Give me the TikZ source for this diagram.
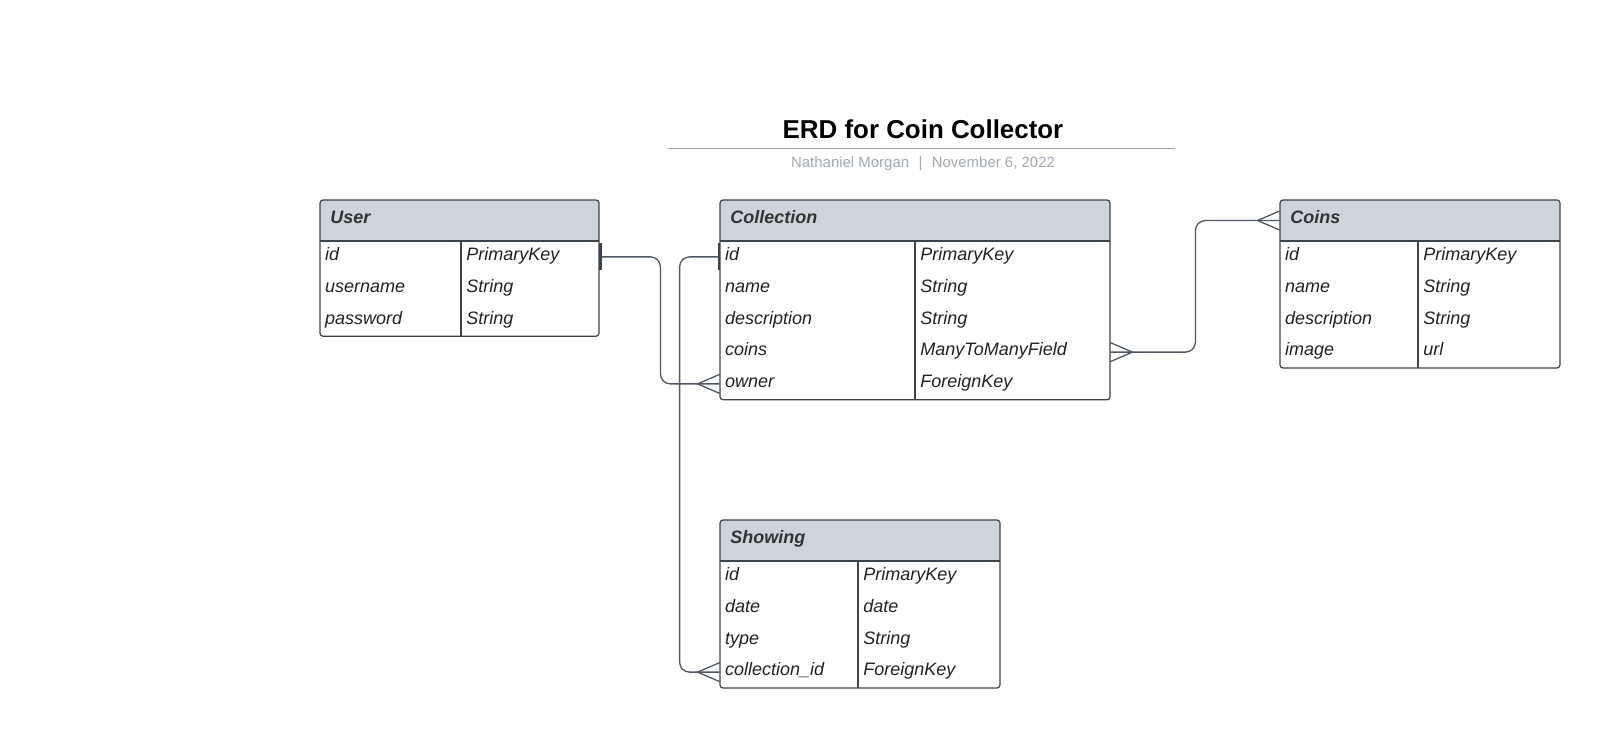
\documentclass[tikz,border=0pt]{standalone}
\usepackage{fontspec}
\setmainfont{Liberation Sans}
\usetikzlibrary{fit}

\definecolor{hdrgray}{HTML}{CED4DB}
\definecolor{edgegray}{HTML}{3D434C}
\definecolor{linkgray}{HTML}{505866}
\definecolor{subgray}{HTML}{A3A8B5}
\definecolor{rulegray}{HTML}{9EA3B0}
\definecolor{inkdark}{HTML}{222222}
\definecolor{hdrink}{HTML}{333333}

\tikzset{
  entbox/.style={draw=edgegray, line width=0.6pt, rounded corners=1.5pt, inner sep=0pt},
  areabox/.style={inner sep=0pt},
  gridline/.style={draw=edgegray, line width=0.6pt},
  hdrfill/.style={fill=hdrgray},
  hdrtext/.style={anchor=base west, inner sep=0pt, text=hdrink,
    font=\fontsize{9}{11}\selectfont\bfseries\itshape},
  fieldtext/.style={anchor=mid west, inner sep=0pt, text=inkdark,
    font=\fontsize{9}{11}\selectfont\itshape},
  conn/.style={draw=linkgray, line width=0.65pt},
  onebar/.style={draw=edgegray, line width=1.3pt},
}

% Entity table: #1 name, #2 left, #3 top, #4 width, #5 divider offset,
% #6 number of rows, #7 title, #8 field/type list
\newcommand{\erentity}[8]{%
  \pgfmathsetmacro{\eBot}{41+#6*31.75}%
  \fill[hdrfill, rounded corners=1.5pt] (#2,#3+41) -- (#2,#3) -- (#2+#4,#3) -- (#2+#4,#3+41);
  \node[areabox, fit={(#2,#3)(#2+#4,#3+41)}] (#1-h) {};
  \node[entbox, fit={(#2,#3)(#2+#4,#3+\eBot)}] (#1) {};
  \draw[gridline] (#2,#3+41) -- (#2+#4,#3+41);
  \draw[gridline] (#2+#5,#3+41) -- (#2+#5,#3+\eBot);
  \node[hdrtext] (#1-title) at (#2+10,#3+23.5) {#7};
  \foreach \fld/\typ [count=\i] in {#8} {
    \node[areabox, fit={(#2,#3+41+\i*31.75-31.75)(#2+#4,#3+41+\i*31.75)}] (#1-r\i) {};
    \node[fieldtext] (#1-f\i) at ([xshift=2.5pt, yshift=0.8pt]#1-r\i.west) {\fld};
    \node[fieldtext] (#1-t\i) at ([yshift=0.8pt]#1-r\i.west -| {#2+#5+5,0}) {\typ};
  }%
}

% Crow's foot ("many") on a west or east side anchor
\newcommand{\crowwest}[1]{%
  \draw[conn] ([yshift=4.75pt]#1) -- ([xshift=-11pt]#1) -- ([yshift=-4.75pt]#1);}
\newcommand{\croweast}[1]{%
  \draw[conn] ([yshift=4.75pt]#1) -- ([xshift=11pt]#1) -- ([yshift=-4.75pt]#1);}

\begin{document}
\begin{tikzpicture}[x=0.5pt, y=-0.5pt]
\useasboundingbox[fill=white] (0,0) rectangle (1600,728);

% Title block
\node[anchor=base, inner sep=0pt, font=\fontsize{12.95}{15}\selectfont\bfseries] (title) at (923,138.5) {ERD for Coin Collector};
\coordinate (ruleL) at (668,148.5);
\coordinate (ruleR) at (1174.5,148.5);
\draw[rulegray, line width=0.75pt] (ruleL) -- (ruleR);
\node[anchor=base, inner sep=0pt, text=subgray, font=\fontsize{7.48}{9}\selectfont] (byline) at (923,167.5)
  {Nathaniel Morgan\hspace{4.7pt}|\hspace{4.7pt}November 6, 2022};

% Entities
\erentity{user}{320}{200}{279}{141}{3}{User}
  {id/PrimaryKey, username/String, password/String}
\erentity{coll}{720}{200}{390}{195}{5}{Collection}
  {id/PrimaryKey, name/String, description/String, coins/ManyToManyField, owner/ForeignKey}
\erentity{coins}{1280}{200}{280}{138}{4}{Coins}
  {id/PrimaryKey, name/String, description/String, image/url}
\erentity{show}{720}{520}{280}{138}{4}{Showing}
  {id/PrimaryKey, date/date, type/String, collection\_id/ForeignKey}

% User 1 -- * Collection.owner
\draw[conn, rounded corners=5pt] (user-r1.east) -- ++(61,0) |- (coll-r5.west);
\draw[onebar] ([xshift=0.6pt, yshift=6.75pt]user-r1.east) -- ([xshift=0.6pt, yshift=-6.75pt]user-r1.east);
\crowwest{coll-r5.west}

% Collection 1 -- * Showing.collection_id
\draw[conn, rounded corners=5pt] (coll-r1.west) -- ++(-40,0) |- (show-r4.west);
\draw[onebar] ([xshift=-0.4pt, yshift=6.75pt]coll-r1.west) -- ([xshift=-0.4pt, yshift=-6.75pt]coll-r1.west);
\crowwest{show-r4.west}

% Collection.coins * -- * Coins
\draw[conn, rounded corners=5pt] (coll-r4.east) -- ++(85,0) |- (coins-h.west);
\croweast{coll-r4.east}
\crowwest{coins-h.west}
\end{tikzpicture}
\end{document}
